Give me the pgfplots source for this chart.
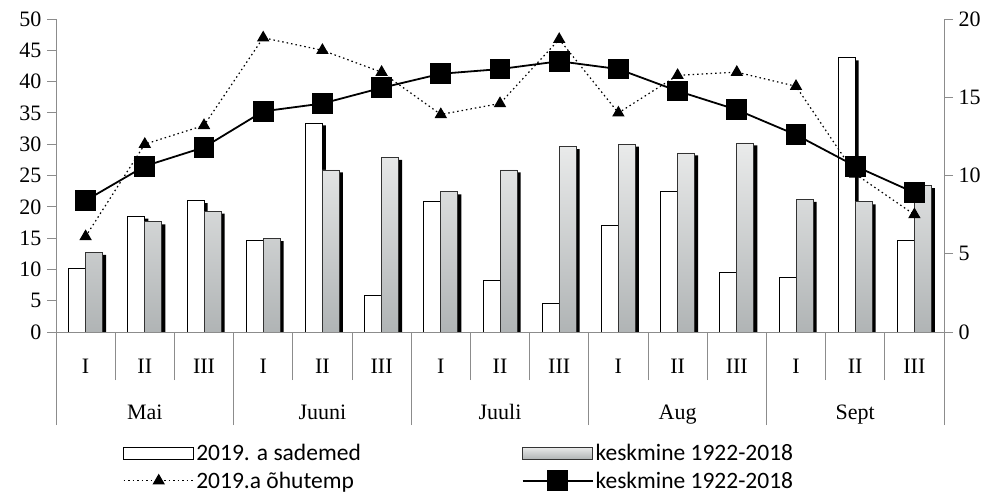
\documentclass[border=0pt]{standalone}
\usepackage{pgfplots}
\pgfplotsset{compat=1.18}
\usepackage{fontspec}
\setmainfont{Liberation Serif}
\newfontfamily\carlito{Carlito}
\definecolor{barTop}{RGB}{234,235,235}
\definecolor{barBot}{RGB}{176,180,181}
\definecolor{axgray}{RGB}{140,140,140}
\pgfplotsset{
  linelegend/.style={legend image code/.code={\draw[mark repeat=2, mark phase=2, ##1] plot coordinates {(0bp,0bp)(35bp,0bp)(70bp,0bp)};}},
  whitelegend/.style={legend image code/.code={\draw[draw=black, line width=0.7bp, fill=white] (0bp,-6bp) rectangle (70bp,6bp);}},
  graylegend/.style={legend image code/.code={\draw[draw=black!80, line width=0.7bp, top color=barTop, bottom color=barBot] (0bp,-6bp) rectangle (70bp,6bp);}},
}
\begin{document}
\begin{tikzpicture}
\useasboundingbox (0,0) rectangle (990bp,494bp);
\pgfplotsset{
  common/.style={
    at={(56bp,162bp)}, anchor=south west,
    scale only axis, width=888bp, height=313bp,
    xmin=-0.5, xmax=14.5,
    font=\fontsize{22bp}{26bp}\selectfont,
    tick label style={font=\rmfamily\fontsize{22bp}{26bp}\selectfont},
    axis line style={draw=axgray, line width=0.8bp},
    tick style={draw=axgray, line width=0.8bp},
    tick align=outside,
  }
}
\begin{axis}[common,
  ymin=0, ymax=50, ytick={0,5,...,50},
  yticklabels={0,5,10,15,20,25,30,35,40,45,50},
  axis y line*=left, axis x line*=bottom,
  major tick length=9bp,
  minor tick length=48bp,
  xtick={0,...,14},
  xticklabels={I,II,III,I,II,III,I,II,III,I,II,III,I,II,III},
  major x tick style={draw=none},
  xticklabel style={yshift=-15bp},
  minor xtick={-0.5,0.5,...,14.5},
  extra x ticks={1,4,7,10,13},
  extra x tick labels={Mai,Juuni,Juuli,Aug,Sept},
  extra x tick style={major tick length=0bp, xticklabel style={yshift=-54bp}},
  yticklabel style={xshift=-2bp},
  ybar=0pt, bar width=17bp,
]
\addplot[draw=none, fill=none,
  preaction={fill=black, draw=none, transform canvas={xshift=3.5bp, yshift=-2.5bp}},
  postaction={fill=white, draw=black, line width=0.7bp}]
  coordinates {(0,10.2)(1,18.5)(2,21.0)(3,14.6)(4,33.4)(5,5.9)(6,20.9)(7,8.2)(8,4.6)(9,17.0)(10,22.4)(11,9.6)(12,8.7)(13,43.8)(14,14.6)};
\addplot[draw=none, fill=none,
  preaction={fill=black, draw=none, transform canvas={xshift=3.5bp, yshift=-2.5bp}},
  postaction={top color=barTop, bottom color=barBot, draw=black!80, line width=0.7bp}]
  coordinates {(0,12.7)(1,17.6)(2,19.3)(3,14.9)(4,25.9)(5,27.9)(6,22.4)(7,25.9)(8,29.6)(9,30.0)(10,28.6)(11,30.2)(12,21.2)(13,20.8)(14,23.4)};
\end{axis}
\begin{axis}[common,
  ymin=0, ymax=20, ytick={0,5,...,20},
  yticklabels={0,5,10,15,20},
  axis y line*=right, axis x line*=bottom,
  major tick length=9bp,
  xtick=\empty,
  extra x ticks={-0.5,2.5,...,14.5}, extra x tick labels={},
  extra x tick style={major tick length=93bp},
  yticklabel style={xshift=2bp},
  clip=false,
  legend columns=2,
  legend cell align=left,
  legend style={at={(0.072,-0.345)}, anchor=north west, draw=none, fill=none,
    font=\carlito\fontsize{23.5bp}{27bp}\selectfont,
    row sep=6bp,
    /tikz/every even column/.append style={column sep=159bp}},
]
\addlegendimage{whitelegend}
\addlegendentry{2019. a sademed}
\addlegendimage{graylegend}
\addlegendentry{keskmine 1922-2018}
\addplot[black, line width=1.2bp, dash pattern=on 1.5bp off 3bp, mark=triangle*, mark size=6bp, mark options={solid}, linelegend]
  coordinates {(0,6.1)(1,12.0)(2,13.2)(3,18.8)(4,18.0)(5,16.6)(6,13.9)(7,14.6)(8,18.7)(9,14.0)(10,16.4)(11,16.6)(12,15.7)(13,10.1)(14,7.5)};
\addlegendentry{2019.a õhutemp}
\addplot[black, line width=1.8bp, mark=square*, mark size=9.5bp, linelegend]
  coordinates {(0,8.4)(1,10.6)(2,11.8)(3,14.1)(4,14.6)(5,15.6)(6,16.5)(7,16.8)(8,17.3)(9,16.8)(10,15.4)(11,14.2)(12,12.6)(13,10.6)(14,8.9)};
\addlegendentry{keskmine 1922-2018}
\end{axis}
\end{tikzpicture}
\end{document}
